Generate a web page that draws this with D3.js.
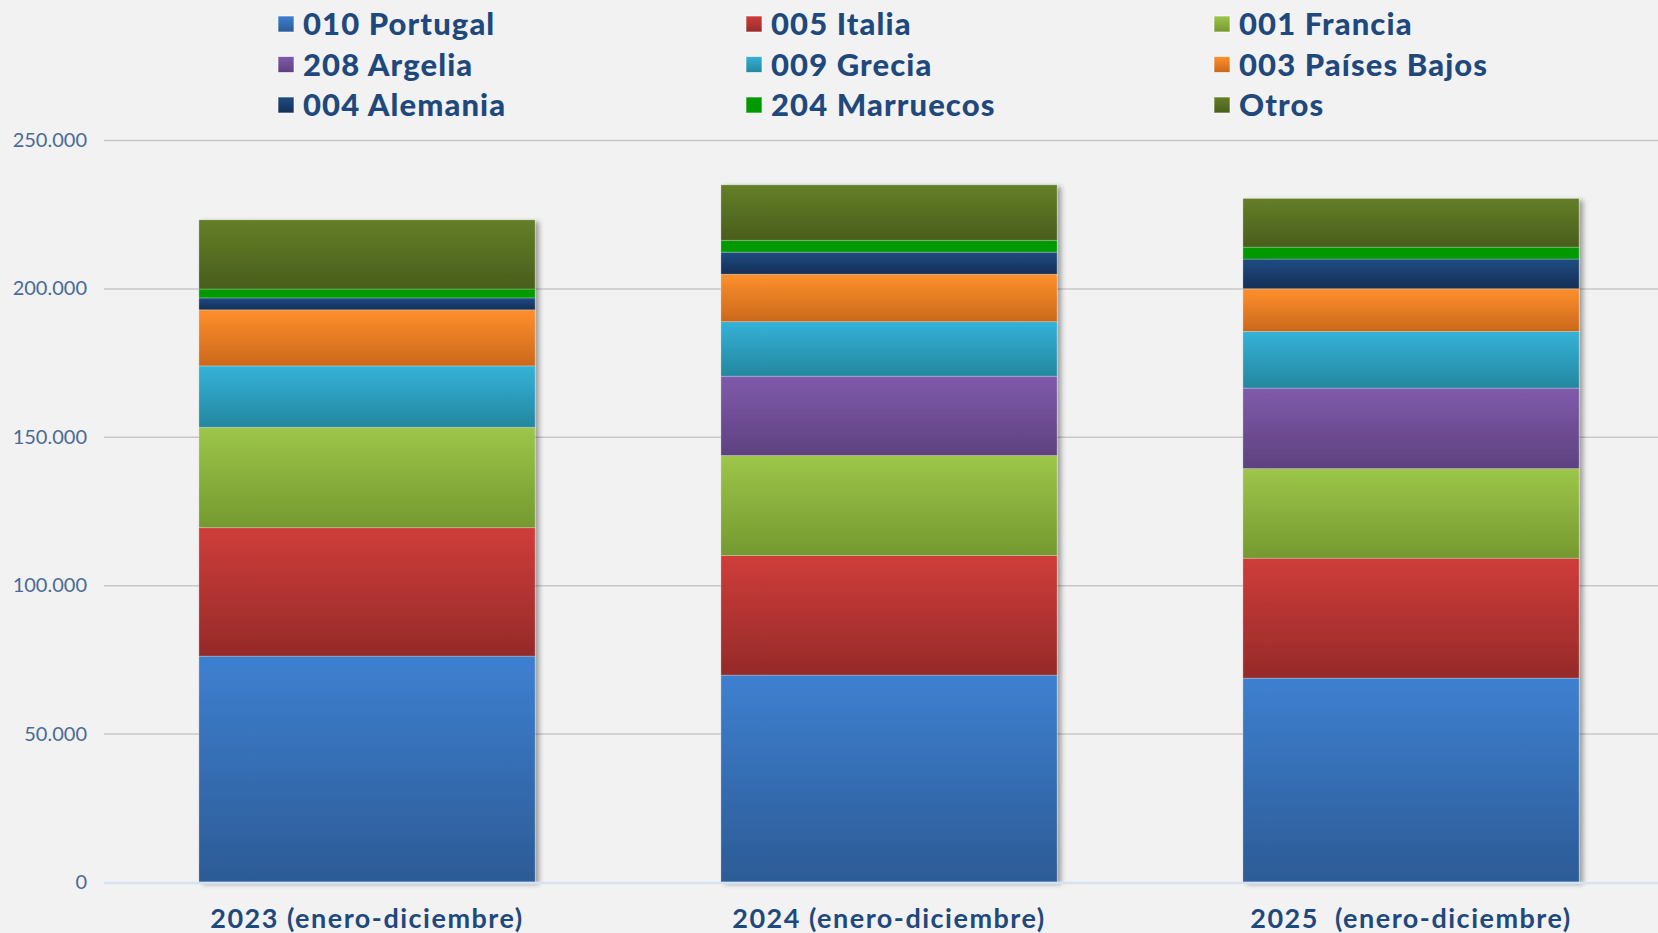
<!DOCTYPE html>
<html lang="es">
<head>
<meta charset="UTF-8">
<title>Exportaciones por destino</title>
<script src="https://d3js.org/d3.v7.min.js"></script>
<style>
    body, html {
        margin: 0;
        padding: 0;
        background: #f2f2f2;
        overflow: hidden;
    }
    svg { display: block; }
</style>
</head>
<body>
<script>
    // Datos
    const categories = ["2023 (enero-diciembre)", "2024 (enero-diciembre)", "2025  (enero-diciembre)"];
    const seriesNames = ["010 Portugal", "005 Italia", "001 Francia", "208 Argelia", "009 Grecia",
                         "003 Países Bajos", "004 Alemania", "204 Marruecos", "Otros"];
    const portugal   = [76100, 69700, 68700];
    const italia     = [43300, 40300, 40400];
    const francia    = [33800, 33700, 30200];
    const argelia    = [0, 26700, 27100];
    const grecia     = [20700, 18400, 19100];
    const paisesBajos = [18900, 16000, 14400];
    const alemania   = [4000, 7400, 10000];
    const marruecos  = [3000, 4000, 4000];
    const otros      = [23300, 18700, 16400];
    const yTicks = [0, 50000, 100000, 150000, 200000, 250000];

    const seriesValues = [portugal, italia, francia, argelia, grecia, paisesBajos, alemania, marruecos, otros];

    // colores (arriba claro, abajo oscuro)
    const colors = [
        ["#3e80d0", "#2c5b96"],
        ["#cf3d3a", "#952a29"],
        ["#9dc64a", "#74992f"],
        ["#7f5bab", "#5e417f"],
        ["#35b2d8", "#24879f"],
        ["#ff902c", "#ca681c"],
        ["#1f4c82", "#142f57"],
        ["#009900", "#009900"],
        ["#647f27", "#495d1d"]
    ];

    const width = 1658, height = 933;

    const svg = d3.select("body").append("svg")
        .attr("width", width)
        .attr("height", height);

    svg.append("rect").attr("width", width).attr("height", height).attr("fill", "#f2f2f2");

    const defs = svg.append("defs");
    colors.forEach((c, i) => {
        const g = defs.append("linearGradient")
            .attr("id", "grad" + i)
            .attr("x1", 0).attr("y1", 0).attr("x2", 0).attr("y2", 1);
        g.append("stop").attr("offset", "0%").attr("stop-color", c[0]);
        g.append("stop").attr("offset", "100%").attr("stop-color", c[1]);
    });
    const shadow = defs.append("filter").attr("id", "shadow")
        .attr("x", "-5%").attr("y", "-5%").attr("width", "115%").attr("height", "110%");
    shadow.append("feDropShadow")
        .attr("dx", 4).attr("dy", 2)
        .attr("stdDeviation", 2.5)
        .attr("flood-color", "#000")
        .attr("flood-opacity", 0.35);

    // Escalas
    const x = d3.scaleBand()
        .domain(categories)
        .range([106, 1672])
        .paddingInner(0.356)
        .paddingOuter(0.178);

    const y = d3.scaleLinear()
        .domain([0, 250000])
        .range([882, 140]);

    const fmt = v => d3.format(",")(v).replace(/,/g, ".");

    // Rejilla
    const grid = svg.append("g")
        .attr("transform", "translate(104,0)")
        .call(d3.axisLeft(y).tickValues(yTicks.slice(1)).tickSize(-(width - 104)).tickFormat(""));
    grid.select(".domain").remove();
    grid.selectAll("line").attr("stroke", "#c8c8c8").attr("stroke-width", 1.5);

    // Etiquetas eje Y
    const yAxis = svg.append("g")
        .attr("transform", "translate(87,0)")
        .call(d3.axisLeft(y).tickValues(yTicks).tickSize(0).tickPadding(0).tickFormat(fmt));
    yAxis.select(".domain").remove();
    yAxis.selectAll("text")
        .attr("font-family", "Lato, sans-serif")
        .attr("font-size", 20)
        .attr("fill", "#4b6a98");

    // Datos apilados
    const table = categories.map((c, j) => {
        const row = { cat: c };
        seriesNames.forEach((s, i) => row[s] = seriesValues[i][j]);
        return row;
    });
    const stacked = d3.stack().keys(seriesNames)(table);

    const barGroups = svg.append("g").selectAll("g")
        .data(categories)
        .join("g")
        .attr("filter", "url(#shadow)");

    barGroups.selectAll("rect")
        .data(c => stacked.map((layer, i) => ({ i, d: layer.find(p => p.data.cat === c), cat: c })))
        .join("rect")
        .filter(o => o.d[1] - o.d[0] > 0)
        .attr("x", o => x(o.cat))
        .attr("width", x.bandwidth())
        .attr("y", o => y(o.d[1]))
        .attr("height", o => y(o.d[0]) - y(o.d[1]))
        .attr("fill", o => `url(#grad${o.i})`)
        .attr("stroke", "rgba(255,255,255,0.25)")
        .attr("stroke-width", 1);

    // Línea base
    svg.append("line")
        .attr("x1", 104).attr("x2", width)
        .attr("y1", y(0) + 1).attr("y2", y(0) + 1)
        .attr("stroke", "#d5e2f2").attr("stroke-width", 2.5);

    // Etiquetas eje X
    svg.append("g").selectAll("text")
        .data(categories)
        .join("text")
        .attr("x", d => x(d) + x.bandwidth() / 2)
        .attr("y", 928)
        .attr("text-anchor", "middle")
        .attr("font-family", "Lato, sans-serif")
        .attr("font-weight", 700)
        .attr("font-size", 27)
        .attr("letter-spacing", 1.5)
        .attr("fill", "#1f497d")
        .style("white-space", "pre")
        .text(d => d);

    // Leyenda
    const legend = svg.append("g").selectAll("g")
        .data(seriesNames)
        .join("g")
        .attr("transform", (d, i) => `translate(${278 + (i % 3) * 468},${24 + Math.floor(i / 3) * 40.5})`);

    legend.append("rect")
        .attr("x", 0).attr("y", -8)
        .attr("width", 16).attr("height", 16)
        .attr("fill", (d, i) => `url(#grad${i})`)
        .attr("stroke", "rgba(255,255,255,0.6)")
        .attr("stroke-width", 1);

    legend.append("text")
        .attr("x", 25)
        .attr("y", 0)
        .attr("dy", "0.36em")
        .attr("font-family", "Lato, sans-serif")
        .attr("font-weight", 900)
        .attr("font-size", 31)
        .attr("letter-spacing", 1.1)
        .attr("fill", "#1f497d")
        .text(d => d);
</script>
</body>
</html>
